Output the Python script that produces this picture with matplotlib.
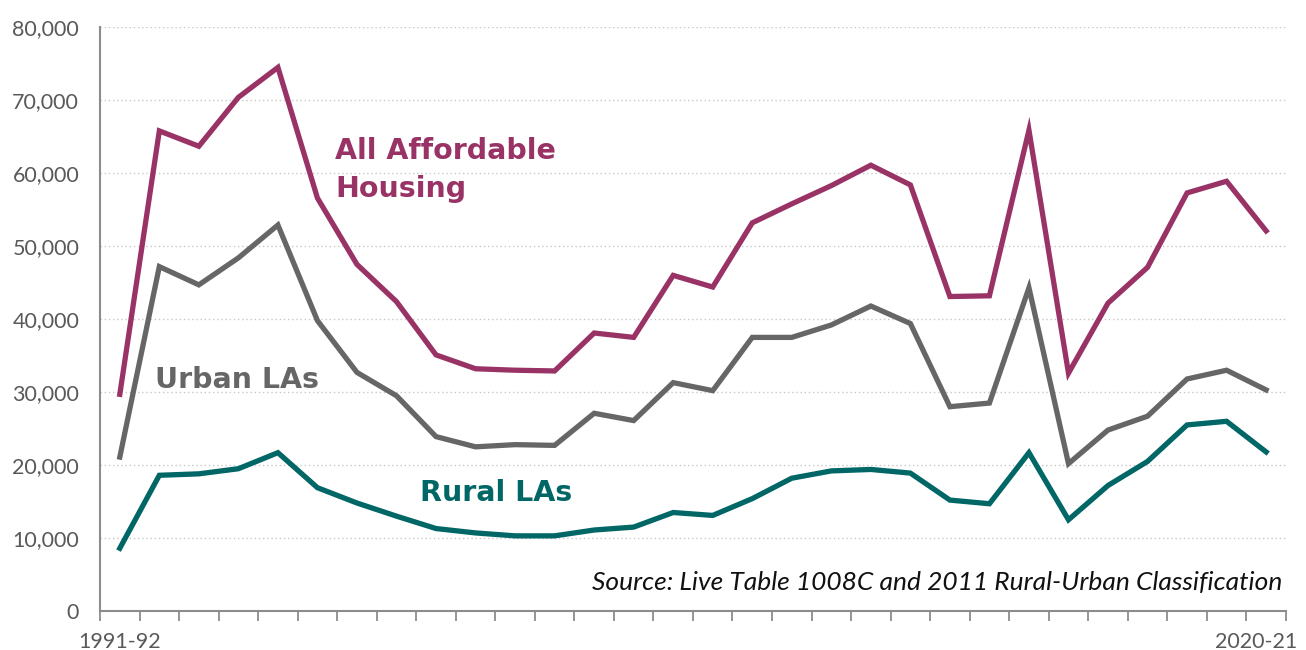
import numpy as np
import matplotlib.pyplot as plt
from matplotlib.ticker import FuncFormatter

# financial years 1991-92 .. 2020-21
years = [f"{y}-{str(y + 1)[-2:]}" for y in range(1991, 2021)]

all_affordable = [29700, 65800, 63700, 70400, 74500, 56600, 47500, 42400, 35100, 33200,
                  33000, 32900, 38100, 37500, 46000, 44400, 53200, 55800, 58300, 61100,
                  58400, 43100, 43200, 65900, 32600, 42200, 47100, 57300, 58900, 52100]
urban = [21100, 47200, 44700, 48400, 52900, 39800, 32700, 29500, 23900, 22500,
         22800, 22700, 27100, 26100, 31300, 30200, 37500, 37500, 39200, 41800,
         39400, 28000, 28500, 44300, 20200, 24800, 26700, 31800, 33000, 30300]
rural = [8600, 18600, 18800, 19500, 21700, 16900, 14800, 13000, 11300, 10700,
         10300, 10300, 11100, 11500, 13500, 13100, 15400, 18200, 19200, 19400,
         18900, 15200, 14700, 21700, 12500, 17200, 20500, 25500, 26000, 21800]

c_all = '#993366'
c_urban = '#666666'
c_rural = '#006666'

fig = plt.figure(figsize=(13.06, 6.5), dpi=100)
ax = fig.add_axes([0.0766, 0.06, 0.908, 0.898])

x = np.arange(len(years))
ax.plot(x, all_affordable, color=c_all, lw=3.8, solid_joinstyle='miter', zorder=3)
ax.plot(x, urban, color=c_urban, lw=3.8, solid_joinstyle='miter', zorder=3)
ax.plot(x, rural, color=c_rural, lw=3.8, solid_joinstyle='miter', zorder=3)

ax.set_xlim(-0.5, len(years) - 0.5)
ax.set_ylim(0, 80000)
ax.set_yticks(range(0, 80001, 10000))
ax.yaxis.set_major_formatter(FuncFormatter(lambda v, p: f"{int(v):,}"))
ax.tick_params(axis='y', length=0, labelsize=15.5, labelcolor='#595959', pad=15)
for t in ax.get_yticklabels():
    t.set_family('Lato')
ax.yaxis.grid(True, color='#c8c8c8', linestyle=(0, (1, 2)), lw=1)
ax.set_axisbelow(True)

# tick marks between categories, labels only at ends
ax.set_xticks(np.arange(-0.5, len(years), 1.0))
ax.set_xticklabels([])
ax.tick_params(axis='x', length=7, width=1.3, color='#8c8c8c')
ax.set_xticks([0.0, len(years) - 1.25], minor=True)
ax.set_xticklabels([years[0], years[-1]], minor=True, family='Lato')
ax.tick_params(axis='x', which='minor', length=0, labelsize=15.5, labelcolor='#595959', pad=15)

for s in ['top', 'right']:
    ax.spines[s].set_visible(False)
for s in ['left', 'bottom']:
    ax.spines[s].set_color('#8c8c8c')
    ax.spines[s].set_linewidth(1.5)

lab = dict(fontsize=20.5, fontweight='bold', family='DejaVu Sans')
ax.text(5.45, 60400, 'All Affordable\nHousing', color=c_all, va='center', ha='left',
        linespacing=1.45, **lab)
ax.text(0.9, 31700, 'Urban LAs', color=c_urban, va='center', ha='left', **lab)
ax.text(7.6, 16200, 'Rural LAs', color=c_rural, va='center', ha='left', **lab)

ax.text(29.42, 3900, 'Source: Live Table 1008C and 2011 Rural-Urban Classification',
        ha='right', va='center', fontsize=19, style='italic', family='Lato',
        color='#111111')

fig.savefig('out.png', dpi=100)
